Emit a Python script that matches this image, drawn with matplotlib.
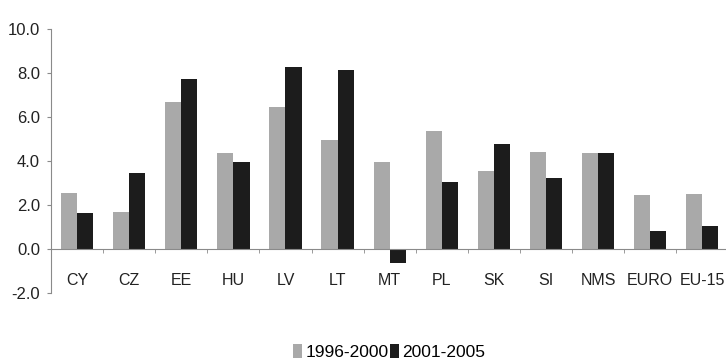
import numpy as np
import matplotlib.pyplot as plt

plt.rcParams['font.family'] = ['Liberation Sans', 'DejaVu Sans']

countries = ["CY", "CZ", "EE", "HU", "LV", "LT", "MT", "PL", "SK", "SI", "NMS", "EURO", "EU-15"]
growth_96_00 = [2.55, 1.68, 6.68, 4.36, 6.44, 4.97, 3.94, 5.35, 3.53, 4.42, 4.35, 2.45, 2.5]
growth_01_05 = [1.64, 3.45, 7.73, 3.95, 8.30, 8.14, -0.65, 3.05, 4.77, 3.25, 4.35, 0.83, 1.03]

LIGHT = "#a9a9a9"
DARK = "#1c1c1c"
AXIS = "#8a8a8a"

fig = plt.figure(figsize=(7.26, 3.6), dpi=100)
ax = fig.add_axes([51 / 726, 0.186, 0.933, 0.733])

x = np.arange(len(countries))
w = 0.31
ax.bar(x - w / 2, growth_96_00, width=w, color=LIGHT, label="1996-2000")
ax.bar(x + w / 2, growth_01_05, width=w, color=DARK, label="2001-2005")

ax.set_xlim(-0.5, len(countries) - 0.5)
ax.set_ylim(-2.0, 10.0)
ax.set_yticks(np.arange(-2, 10.1, 2))
ax.set_yticklabels([f"{v:.1f}" for v in np.arange(-2, 10.1, 2)])

# category axis sits on the zero line, with short ticks between groups
for s in ("top", "right"):
    ax.spines[s].set_visible(False)
ax.spines["bottom"].set_position(("data", 0))
for s in ("left", "bottom"):
    ax.spines[s].set_color(AXIS)
    ax.spines[s].set_linewidth(0.8)

ax.set_xticks(x)
ax.set_xticklabels(countries)
ax.set_xticks(np.arange(-0.5, len(countries), 1), minor=True)
ax.tick_params(axis="x", which="major", length=0, pad=17, labelsize=11.5, labelcolor="#222222")
ax.tick_params(axis="x", which="minor", length=3, color=AXIS, direction="out")
ax.tick_params(axis="y", length=3, color=AXIS, labelsize=12, labelcolor="#222222", pad=5)

fig.legend(loc="center", bbox_to_anchor=(0.536, 0.022), ncol=2, frameon=False,
           fontsize=12.5, handlelength=0.5, handleheight=0.85, handletextpad=0.2,
           columnspacing=0.1, borderpad=0)

fig.savefig("out.png", dpi=100)
